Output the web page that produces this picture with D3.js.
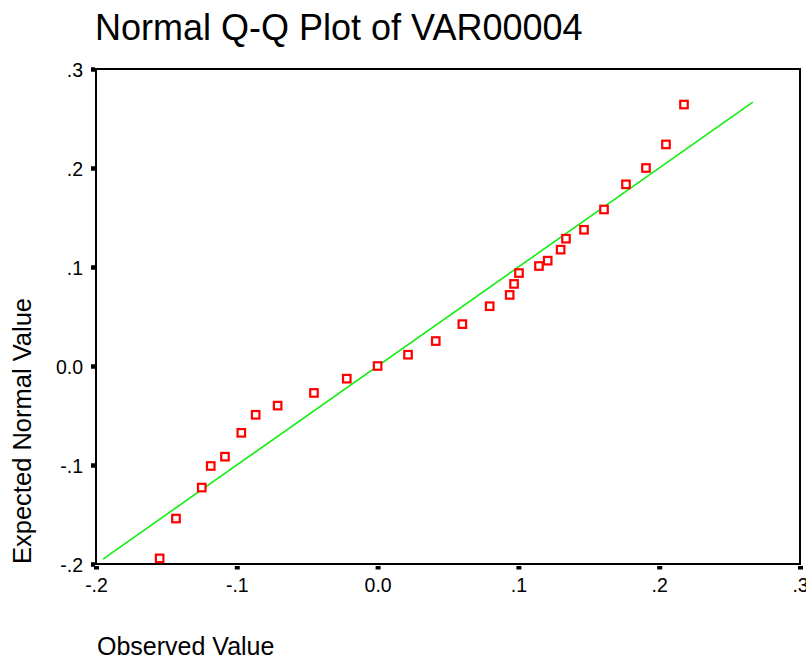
<!DOCTYPE html>
<html>
<head>
<meta charset="utf-8">
<script src="https://cdn.jsdelivr.net/npm/d3@7"></script>
<style>
  html, body { margin: 0; padding: 0; background: #fff; }
  svg { display: block; }
  text { font-family: Arial, "Liberation Sans", sans-serif; fill: #000; }
</style>
</head>
<body>
<svg id="chart" width="806" height="661"></svg>
<script>
// Observed values (x) and their expected normal quantiles (y)
const observed = [-0.1548, -0.1432, -0.1249, -0.1185, -0.1084, -0.0968, -0.0866, -0.0710,
  -0.0452, -0.0219, 0.0000, 0.0216, 0.0413, 0.0602, 0.0796, 0.0938, 0.0969, 0.1004,
  0.1146, 0.1208, 0.1300, 0.1338, 0.1466, 0.1608, 0.1764, 0.1906, 0.2048, 0.2176];
const expected = [-0.1943, -0.1541, -0.1228, -0.1010, -0.0916, -0.0675, -0.0493, -0.0400,
  -0.0272, -0.0128, 0.0000, 0.0114, 0.0252, 0.0423, 0.0604, 0.0718, 0.0829, 0.0939,
  0.1010, 0.1064, 0.1175, 0.1286, 0.1376, 0.1581, 0.1835, 0.2000, 0.2238, 0.2641];

// Reference line y = x
const refLine = [-0.195, 0.2665];

const xTicks = [-0.2, -0.1, 0.0, 0.1, 0.2, 0.3];
const xTickLabels = ["-.2", "-.1", "0.0", ".1", ".2", ".3"];
const yTicks = [-0.2, -0.1, 0.0, 0.1, 0.2, 0.3];
const yTickLabels = ["-.2", "-.1", "0.0", ".1", ".2", ".3"];

const titleText = "Normal Q-Q Plot of VAR00004";
const xTitle = "Observed Value";
const yTitle = "Expected Normal Value";

const svg = d3.select("#chart");
const plotLeft = 96, plotRight = 800, plotTop = 69, plotBottom = 564;

const x = d3.scaleLinear().domain([-0.2, 0.3]).range([plotLeft, plotRight]);
const y = d3.scaleLinear().domain([-0.2, 0.3]).range([plotBottom, plotTop]);

// Title
svg.append("text")
  .attr("x", 95).attr("y", 40)
  .attr("font-size", 36)
  .text(titleText);

// X axis ticks and labels
const xAxis = d3.axisBottom(x)
  .tickValues(xTicks)
  .tickSize(3.5)
  .tickPadding(9)
  .tickFormat((d, i) => xTickLabels[i]);
const gx = svg.append("g")
  .attr("transform", `translate(0,${plotBottom + 2})`)
  .call(xAxis);
gx.select(".domain").remove();
gx.selectAll(".tick line").attr("stroke", "#000").attr("stroke-width", 5);
gx.selectAll(".tick text").attr("font-size", 19.5)
  .attr("font-family", "Arial, 'Liberation Sans', sans-serif");

// Y axis ticks and labels
const yAxis = d3.axisLeft(y)
  .tickValues(yTicks)
  .tickSize(4)
  .tickPadding(8)
  .tickFormat((d, i) => yTickLabels[i]);
const gy = svg.append("g")
  .attr("transform", `translate(${plotLeft - 1},0)`)
  .call(yAxis);
gy.select(".domain").remove();
gy.selectAll(".tick line").attr("stroke", "#000").attr("stroke-width", 4.5);
gy.selectAll(".tick text").attr("font-size", 19.5).attr("dy", "0.38em")
  .attr("font-family", "Arial, 'Liberation Sans', sans-serif");

// Plot frame
svg.append("rect")
  .attr("x", plotLeft).attr("y", plotTop)
  .attr("width", plotRight - plotLeft).attr("height", plotBottom - plotTop)
  .attr("fill", "none").attr("stroke", "#000").attr("stroke-width", 2);

// Reference line
svg.append("line")
  .attr("x1", x(refLine[0])).attr("y1", y(refLine[0]))
  .attr("x2", x(refLine[1])).attr("y2", y(refLine[1]))
  .attr("stroke", "#11ee11").attr("stroke-width", 1.6);

// Points: hollow red squares
const pts = observed.map((v, i) => ({ x: v, y: expected[i] }));
const s = 7.5;
svg.append("g").selectAll("rect")
  .data(pts)
  .join("rect")
  .attr("x", d => x(d.x) - s / 2)
  .attr("y", d => y(d.y) - s / 2)
  .attr("width", s).attr("height", s)
  .attr("fill", "#fff")
  .attr("stroke", "#ff0000")
  .attr("stroke-width", 2.2);

// Axis titles
svg.append("text")
  .attr("x", 97).attr("y", 655)
  .attr("font-size", 25)
  .text(xTitle);

svg.append("text")
  .attr("transform", "translate(31,431) rotate(-90)")
  .attr("text-anchor", "middle")
  .attr("font-size", 25.5)
  .text(yTitle);
</script>
</body>
</html>
